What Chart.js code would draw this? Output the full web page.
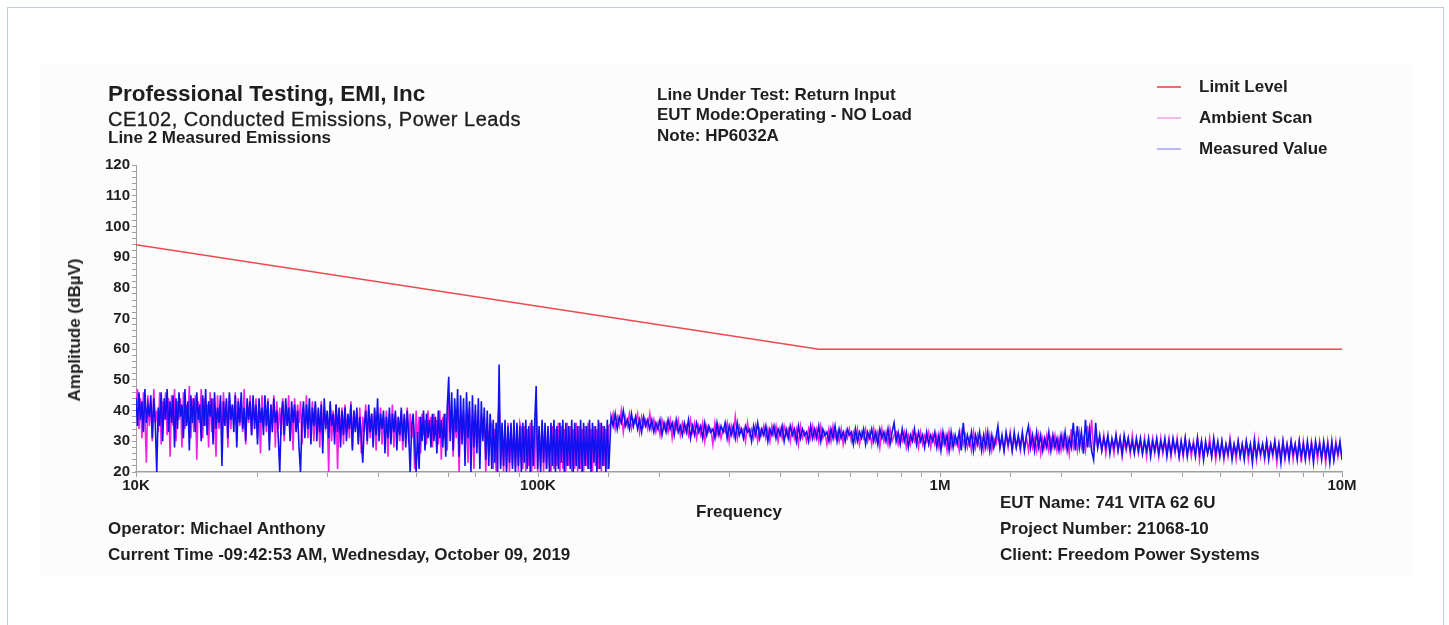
<!DOCTYPE html>
<html>
<head>
<meta charset="utf-8">
<script src="https://cdn.jsdelivr.net/npm/chart.js@4.4.1/dist/chart.umd.min.js"></script>
<style>
  body { margin: 0; background: #fff; }
  #wrap { position: relative; width: 1449px; height: 625px; overflow: hidden; font-family: "Liberation Sans", Arial, sans-serif; color: #1e1e1e; }
  #frame { position: absolute; left: 7px; top: 7px; width: 1435px; height: 660px; border: 1px solid #bfd0d8; }
  #panel { position: absolute; left: 40px; top: 63px; width: 1372px; height: 514px; background: #fcfcfc; }
  #emiChart { position: absolute; left: 0; top: 0; }
  .t { position: absolute; white-space: nowrap; transform: translateY(-50%); font-size: 17px; font-weight: bold; }
  .leg { position: absolute; left: 1157px; width: 24px; height: 2px; }
</style>
</head>
<body>
<div id="wrap">
  <div id="frame"></div>
  <div id="panel"></div>
  <canvas id="emiChart" width="1449" height="625"></canvas>

  <div class="t" style="left:108px;top:94px;font-size:22.5px;">Professional Testing, EMI, Inc</div>
  <div class="t" style="left:108px;top:119px;font-size:20px;font-weight:normal;letter-spacing:0.5px;-webkit-text-stroke:0.35px #1e1e1e;">CE102, Conducted Emissions, Power Leads</div>
  <div class="t" style="left:108px;top:138px;">Line 2 Measured Emissions</div>

  <div class="t" style="left:657px;top:95px;">Line Under Test: Return Input</div>
  <div class="t" style="left:657px;top:115px;">EUT Mode:Operating - NO Load</div>
  <div class="t" style="left:657px;top:136px;">Note: HP6032A</div>

  <div class="leg" style="top:86px;background:#f26a72;"></div>
  <div class="leg" style="top:117px;background:#f3b8f0;"></div>
  <div class="leg" style="top:148px;background:#babaf2;"></div>
  <div class="t" style="left:1199px;top:87px;">Limit Level</div>
  <div class="t" style="left:1199px;top:118px;">Ambient Scan</div>
  <div class="t" style="left:1199px;top:149px;">Measured Value</div>

  <div class="t" style="left:75px;top:330px;transform:translate(-50%,-50%) rotate(-90deg);">Amplitude (dB&micro;V)</div>
  <div class="t" style="left:739px;top:512px;transform:translate(-50%,-50%);">Frequency</div>

  <div class="t" style="left:108px;top:529px;">Operator: Michael Anthony</div>
  <div class="t" style="left:108px;top:555px;">Current Time -09:42:53 AM, Wednesday, October 09, 2019</div>
  <div class="t" style="left:1000px;top:503px;">EUT Name: 741 VITA 62 6U</div>
  <div class="t" style="left:1000px;top:529px;">Project Number: 21068-10</div>
  <div class="t" style="left:1000px;top:555px;">Client: Freedom Power Systems</div>
</div>

<script>
// CE102 limit (dBuV)
const limitFreqs = [10000, 500000, 10000000];
const limitLevels = [94, 60, 60];

// x axis labels
const xTickValues = [10000, 100000, 1000000, 10000000];
const xTickLabels = ['10K', '100K', '1M', '10M'];

// low band sweep 10K - 150K (dBuV)
const lowStart = 10000, lowStop = 150000;
const measuredLow = [
  44,35,46,37,43,33,47,36,42,38,45,31,44,36,20,41,35,46,30,44,
  37,47,33,43,36,45,28,44,34,46,38,42,31,47,35,43,27,45,36,44,
  33,46,37,42,30,45,35,47,32,43,38,44,29,46,34,41,36,45,22,43,
  35,44,31,46,37,42,33,45,28,43,36,46,34,41,30,44,37,43,32,45,
  34,42,29,44,36,41,32,45,35,43,27,42,33,44,36,40,31,20,38,43,
  32,44,35,41,30,43,36,42,33,40,28,20,37,43,31,42,34,44,29,41,
  35,43,30,41,33,42,26,44,34,40,31,43,35,39,29,42,33,41,28,40,
  32,41,30,39,34,42,27,40,33,41,29,38,31,23,35,40,30,42,33,39,
  28,41,32,44,30,39,34,40,26,38,31,41,29,39,33,40,27,38,32,41,
  30,39,28,40,32,20,35,39,29,20,33,21,38,30,40,27,39,31,37,28,
  39,30,38,26,40,31,37,28,39,25,41,51,30,46,27,44,33,47,25,45,
  29,44,22,46,31,43,20,45,28,42,26,44,21,43,30,41,24,40,22,39,
  21,37,23,36,20,55,21,36,22,37,20,35,23,36,21,37,20,36,22,35,
  20,36,23,37,21,35,20,37,22,36,48,21,35,20,37,23,36,21,35,20,
  36,22,37,20,35,21,36,23,37,20,36,22,35,21,37,20,36,22,35,21,
  37,20,36,22,35,21,37,20,36,23,35,20,37,21,36,22,35,20,37,21
];
const ambientLow = [
  41,47,34,44,31,46,38,23,45,35,43,30,47,36,40,33,46,29,43,37,
  46,32,44,25,45,35,47,30,43,37,44,28,46,34,42,36,48,31,44,33,
  45,24,43,36,47,31,44,35,42,28,46,33,44,37,25,45,34,43,31,46,
  36,43,28,45,34,42,37,46,30,44,35,41,33,47,29,43,36,45,32,42,
  37,44,31,42,26,45,35,41,33,44,30,42,36,45,28,43,34,41,32,44,
  30,42,35,45,31,41,27,44,34,42,36,43,29,41,33,45,31,40,35,43,
  30,42,34,40,28,43,32,41,35,39,20,42,30,40,33,42,21,39,34,41,
  29,42,33,38,31,43,28,40,34,39,30,41,26,38,33,42,29,40,31,39,
  33,40,27,39,32,41,29,38,34,40,25,39,31,42,28,39,33,38,30,40,
  27,38,33,41,29,39,31,37,21,40,30,38,26,39,32,37,29,40,33,38,
  28,39,32,37,29,40,24,38,31,39,27,44,33,40,25,39,31,41,20,38,
  32,40,27,39,23,41,30,38,21,40,28,37,25,39,31,38,20,36,27,37,
  35,21,34,20,36,43,22,35,20,34,21,36,20,35,22,34,21,35,20,36,
  34,21,35,20,34,22,36,20,35,21,42,20,34,22,36,20,35,21,34,22,
  20,35,21,34,22,36,20,35,21,34,20,36,22,35,20,34,21,36,20,35,
  21,34,20,35,22,36,21,34,20,35,22,34,21,36,20,35,22,34,21,35
];

// high band sweep 152K - 10M (dBuV)
const highStart = 152000, highStop = 10000000;
const measuredHigh = [
  38,35,39,34,38,36,40,35,37,34,39,35,38,34,37,33,38,35,37,34,
  37,33,36,34,37,32,36,33,37,34,36,32,37,33,35,32,36,33,37,31,
  35,32,36,33,35,31,36,32,35,33,34,31,36,32,35,33,36,31,35,32,
  35,31,36,32,34,31,35,33,34,30,35,32,36,31,34,32,35,30,34,32,
  35,31,34,32,35,30,34,31,35,32,34,30,35,31,34,32,33,30,35,31,
  34,31,35,30,34,32,33,30,34,31,35,30,34,31,33,30,34,32,33,29,
  34,30,33,31,34,29,33,31,34,30,33,29,34,31,33,30,34,29,33,36,
  30,33,29,34,30,33,28,32,30,34,29,33,30,32,28,33,29,32,30,33,
  28,32,27,33,29,32,27,33,28,32,29,33,27,36,28,32,29,33,27,32,
  29,33,27,32,28,33,27,32,28,31,35,28,32,27,33,29,32,27,33,28,
  32,28,33,27,32,35,28,32,27,33,28,32,27,31,28,33,27,32,28,31,
  27,32,28,33,27,31,28,36,27,35,28,33,26,37,28,34,27,24,36,28,
  32,27,31,28,32,26,31,28,32,27,31,26,32,28,31,27,30,26,31,27,
  31,26,30,27,31,25,30,27,31,26,30,27,31,25,30,26,31,27,30,25,
  30,26,31,25,30,27,29,25,31,26,30,24,30,26,29,25,31,26,30,25,
  30,25,29,26,30,24,29,26,30,25,29,24,30,26,29,23,30,25,29,26,
  29,25,30,24,29,26,30,25,29,23,30,25,29,24,30,26,29,24,30,25,
  29,24,30,25,29,23,30,26,29,24,30,25,29,23,30,24,29,26,30,24
];
const ambientHigh = [
  36,39,34,38,35,40,33,38,35,39,34,37,36,39,33,38,35,37,34,39,
  34,37,33,36,32,37,34,36,33,37,31,36,34,37,32,36,33,35,32,37,
  33,36,31,35,32,36,30,35,33,34,29,36,32,35,31,34,33,36,30,35,
  32,38,31,35,33,34,30,36,32,34,31,35,30,34,32,35,31,34,30,35,
  32,35,30,34,31,35,32,34,30,35,31,34,29,35,31,33,30,34,31,35,
  31,34,30,35,31,33,29,34,30,35,31,33,30,34,29,33,31,34,30,33,
  30,34,29,33,31,34,30,33,29,34,30,33,28,34,30,33,29,34,30,32,
  33,29,32,30,33,28,32,29,33,30,32,28,33,29,32,30,33,28,32,29,
  32,28,33,29,32,27,33,28,32,29,31,27,33,29,32,28,31,27,33,28,
  32,28,31,27,33,28,32,27,31,29,32,28,31,27,32,28,33,27,31,28,
  31,27,32,28,31,27,33,28,31,27,32,26,31,28,32,27,31,28,32,27,
  31,27,32,28,31,26,34,28,32,27,33,28,31,27,35,28,37,27,32,28,
  31,27,32,26,31,28,30,26,32,27,31,25,30,27,31,26,32,27,30,26,
  30,26,31,25,30,27,31,26,30,25,31,26,30,27,31,25,30,26,31,25,
  30,25,31,26,29,25,30,26,31,24,30,25,29,26,31,25,30,24,29,26,
  30,24,29,25,31,26,29,24,30,25,29,26,30,24,29,25,31,24,30,25,
  29,24,30,26,29,25,30,23,29,25,30,24,29,26,30,24,29,25,30,23,
  30,25,29,24,30,26,29,24,30,25,29,23,30,25,29,24,30,25,29,24
];

// receiver steps are log spaced across each band
function sweepFreqs(start, stop, n) {
  const out = [];
  for (let i = 0; i < n; i++) out.push(start * Math.pow(stop / start, i / (n - 1)));
  return out;
}

function toPoints(lowVals, highVals) {
  const fl = sweepFreqs(lowStart, lowStop, lowVals.length);
  const fh = sweepFreqs(highStart, highStop, highVals.length);
  return fl.map((f, i) => ({ x: f, y: lowVals[i] }))
    .concat(fh.map((f, i) => ({ x: f, y: highVals[i] })));
}

const font = { family: '"Liberation Sans", Arial, sans-serif', size: 15, weight: 'bold' };

new Chart(document.getElementById('emiChart'), {
  type: 'line',
  data: {
    datasets: [
      {
        label: 'Limit Level',
        data: limitFreqs.map((f, i) => ({ x: f, y: limitLevels[i] })),
        borderColor: '#ec4a52',
        borderWidth: 1.5,
        order: 0,
      },
      {
        label: 'Measured Value',
        data: toPoints(measuredLow, measuredHigh),
        borderColor: '#1212f0',
        borderWidth: 1.6,
        order: 1,
      },
      {
        label: 'Ambient Scan',
        data: toPoints(ambientLow, ambientHigh),
        borderColor: '#f51ee6',
        borderWidth: 1.6,
        order: 2,
      },
    ],
  },
  options: {
    responsive: false,
    animation: false,
    layout: { padding: { left: 76, right: 107, top: 165, bottom: 123 } },
    elements: { point: { radius: 0 }, line: { tension: 0 } },
    plugins: { legend: { display: false }, tooltip: { enabled: false } },
    scales: {
      x: {
        type: 'logarithmic',
        min: 10000,
        max: 10000000,
        afterFit: s => { s.height = 30; },
        border: { color: '#a0a0a0', width: 1.5 },
        grid: { drawOnChartArea: false, tickLength: 5, color: '#a0a0a0' },
        ticks: {
          autoSkip: false,
          maxRotation: 0,
          padding: 0,
          color: '#1e1e1e',
          font,
          callback: v => {
            const k = xTickValues.indexOf(v);
            return k >= 0 ? xTickLabels[k] : '';
          },
        },
      },
      y: {
        min: 20,
        max: 120,
        afterFit: s => { s.width = 60; },
        border: { color: '#a0a0a0' },
        grid: { drawOnChartArea: false, tickLength: 4, color: '#a0a0a0' },
        ticks: {
          stepSize: 2,
          autoSkip: false,
          padding: 2,
          color: '#1e1e1e',
          font,
          callback: v => (v % 10 === 0 ? v : ''),
        },
      },
    },
  },
});
</script>
</body>
</html>
